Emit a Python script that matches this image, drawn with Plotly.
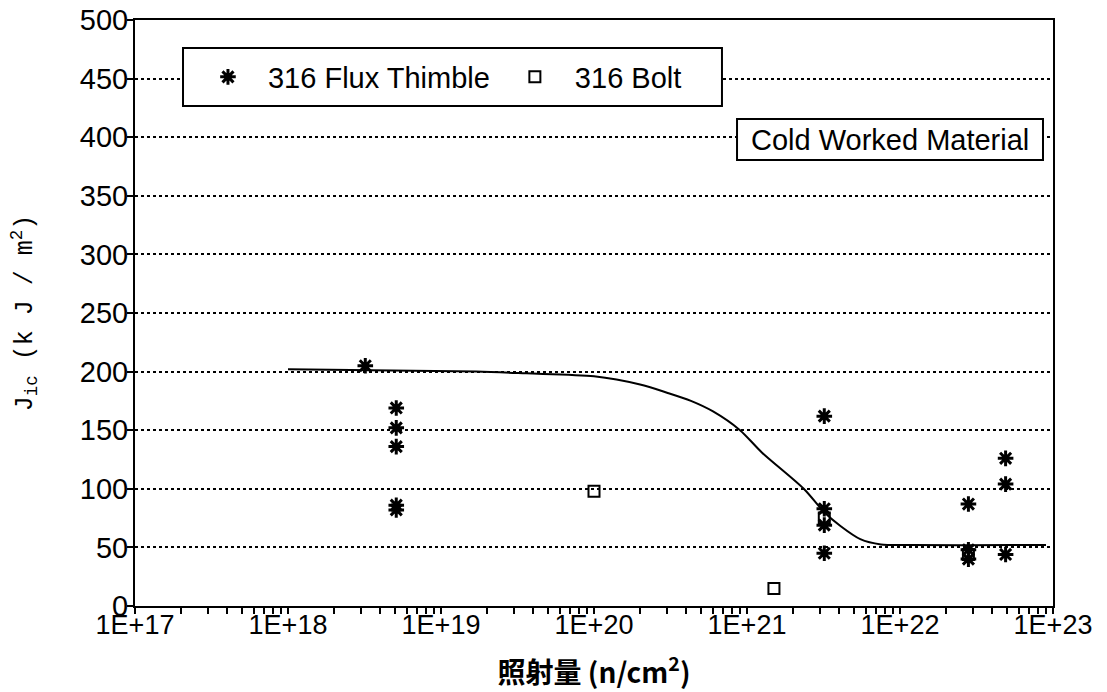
import plotly.graph_objects as go

# ---- data ----
thimble_x = [3.2e18, 5.1e18, 5.1e18, 5.1e18, 5.1e18, 5.1e18,
             3.2e21, 3.2e21, 3.2e21, 3.2e21,
             2.8e22, 2.8e22, 2.8e22,
             4.9e22, 4.9e22, 4.9e22]
thimble_y = [205, 169, 152, 136, 86, 82,
             162, 83, 69, 45,
             87, 48, 40,
             126, 104, 44]

bolt_x = [1.0e20, 1.5e21, 3.2e21, 2.8e22]
bolt_y = [98, 15, 75, 44]

curve_x = [1e18, 1.7e19, 3.6e19, 1e20, 2e20, 3e20, 4.3e20, 6e20,
           9e20, 1.25e21, 2.35e21, 3.2e21, 4.1e21, 5.5e21, 7.5e21, 1.2e22, 5.5e22, 9e22]
curve_y = [202, 200, 198.5, 196, 189, 182, 175, 166,
           150, 131, 100, 80, 68, 57, 52.5, 52, 52, 52]

x_tickvals = [1e17, 1e18, 1e19, 1e20, 1e21, 1e22, 1e23]
x_ticktext = ["1E+17", "1E+18", "1E+19", "1E+20", "1E+21", "1E+22", "1E+23"]
y_tickvals = [0, 50, 100, 150, 200, 250, 300, 350, 400, 450, 500]

minor_vals = [float(m) * 10.0 ** e for e in range(17, 23) for m in range(2, 10)]

SANS = "Liberation Sans, Arial, sans-serif"

fig = go.Figure()
fig.add_trace(go.Scatter(
    x=curve_x, y=curve_y, mode="lines",
    line=dict(color="black", width=2, shape="spline", smoothing=0.8),
    showlegend=False, hoverinfo="skip"))
fig.add_trace(go.Scatter(
    x=thimble_x, y=thimble_y, mode="markers", name="316 Flux Thimble",
    marker=dict(symbol="asterisk-open", size=13, color="black",
                line=dict(color="black", width=3))))
fig.add_trace(go.Scatter(
    x=bolt_x, y=bolt_y, mode="markers", name="316 Bolt",
    marker=dict(symbol="square-open", size=11, color="black",
                line=dict(color="black", width=2))))

fig.update_layout(
    width=1107, height=692,
    margin=dict(l=135, r=54, t=20, b=86),
    paper_bgcolor="white", plot_bgcolor="white",
    font=dict(family=SANS, color="black"),
    legend=dict(
        orientation="h", x=0.0577, y=0.9027, xanchor="left", yanchor="middle",
        bgcolor="rgba(0,0,0,0)", borderwidth=0,
        font=dict(family=SANS, size=29, color="black"),
        itemwidth=70),
    shapes=[
        dict(type="rect", xref="paper", yref="paper", x0=0.0523, x1=0.6394,
             y0=0.8532, y1=0.9522, line=dict(color="black", width=2),
             fillcolor="white", layer="above"),
        dict(type="rect", xref="paper", yref="paper", x0=0.6558, x1=0.9891,
             y0=0.7611, y1=0.8311, line=dict(color="black", width=2),
             fillcolor="white", layer="above"),
    ],
    annotations=[dict(
        text="Cold Worked Material", xref="paper", yref="paper", x=0.8224, y=0.796,
        xanchor="center", yanchor="middle", showarrow=False,
        font=dict(family=SANS, size=29, color="black"))],
)

fig.update_xaxes(
    type="log", range=[17, 23], automargin=False,
    tickvals=x_tickvals, ticktext=x_ticktext,
    ticks="outside", ticklen=6, tickwidth=2, tickcolor="black",
    ticklabelstandoff=-12, ticklabeloverflow="allow",
    tickfont=dict(family=SANS, size=27, color="black"),
    showline=True, linecolor="black", linewidth=2, mirror=True,
    showgrid=False, zeroline=False,
    minor=dict(tickvals=minor_vals, ticks="outside", ticklen=6, tickwidth=1.5,
               tickcolor="black", showgrid=False),
    title=dict(text="照射量 (n/cm<sup>2</sup>)", standoff=24,
               font=dict(family="Noto Sans CJK JP, sans-serif", size=28, color="black",
                         weight="bold")),
)
fig.update_yaxes(
    range=[0, 500], tickvals=y_tickvals, automargin=False,
    ticks="outside", ticklen=6, tickwidth=2, tickcolor="black",
    ticklabelstandoff=-7, ticklabeloverflow="allow",
    tickfont=dict(family=SANS, size=29, color="black"),
    showline=True, linecolor="black", linewidth=2, mirror=True,
    showgrid=True, gridcolor="black", gridwidth=2, griddash="dot",
    zeroline=False,
    title=dict(text="J<sub>ic</sub> (k J / m<sup>2</sup>)", standoff=40,
               font=dict(family="Liberation Mono, Courier New, monospace", size=25,
                         color="black")),
)

fig.write_html("out.html", config={"displayModeBar": False},
               post_script="document.body.style.margin='0';")
